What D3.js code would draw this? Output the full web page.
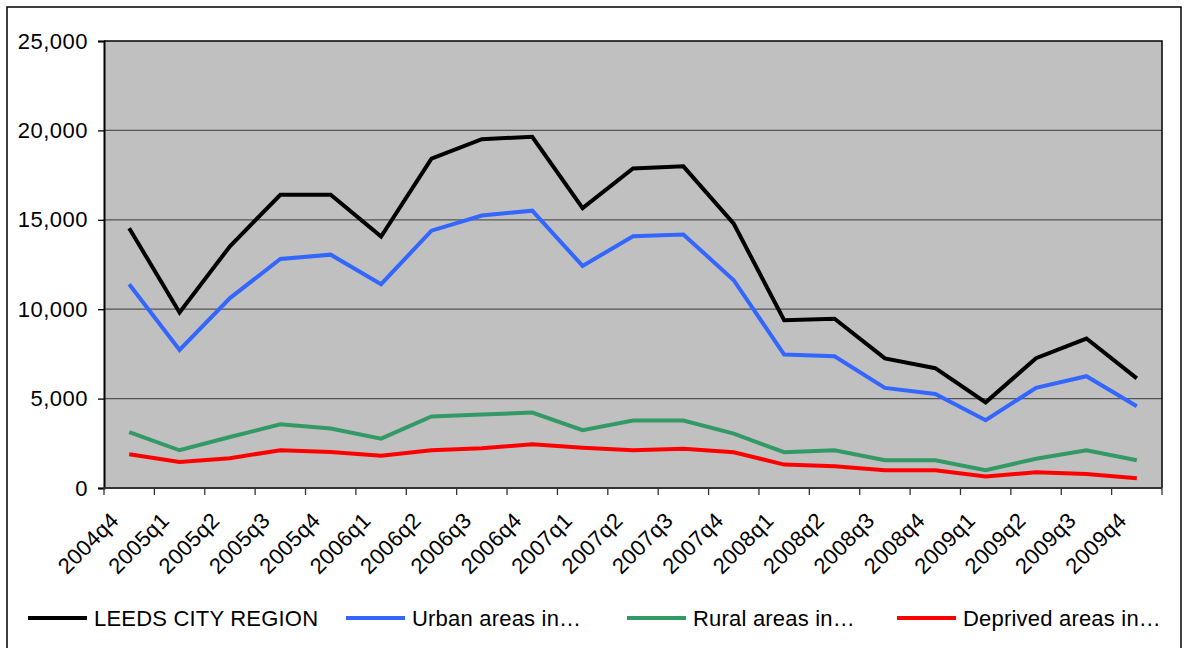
<!DOCTYPE html>
<html>
<head>
<meta charset="utf-8">
<script src="https://cdn.jsdelivr.net/npm/d3@7"></script>
<style>
  html, body { margin: 0; padding: 0; background: #fff; }
  svg { display: block; font-family: "Liberation Sans", Arial, sans-serif; }
</style>
</head>
<body>
<svg id="chart" width="1185" height="648"></svg>
<script>
// Quarterly values, Leeds City Region and its sub-areas
const quarters = ["2004q4","2005q1","2005q2","2005q3","2005q4","2006q1","2006q2","2006q3","2006q4",
  "2007q1","2007q2","2007q3","2007q4","2008q1","2008q2","2008q3","2008q4","2009q1","2009q2","2009q3","2009q4"];
const leedsCityRegion = [14530, 9820, 13520, 16400, 16400, 14060, 18420, 19510, 19640,
  15650, 17870, 17990, 14780, 9380, 9470, 7250, 6700, 4790, 7260, 8360, 6130];
const urbanAreas = [11400, 7720, 10620, 12810, 13050, 11400, 14390, 15240, 15510,
  12420, 14080, 14180, 11620, 7460, 7370, 5600, 5260, 3790, 5600, 6250, 4570];
const ruralAreas = [3130, 2110, 2850, 3560, 3330, 2760, 4000, 4110, 4220,
  3230, 3770, 3770, 3040, 2000, 2110, 1550, 1550, 990, 1640, 2110, 1550];
const deprivedAreas = [1890, 1460, 1670, 2110, 2020, 1800, 2110, 2220, 2440,
  2250, 2110, 2200, 2000, 1310, 1210, 990, 990, 650, 880, 780, 540];
const yTicks = [0, 5000, 10000, 15000, 20000, 25000];

const series = [
  { name: "LEEDS CITY REGION", values: leedsCityRegion, color: "#000000" },
  { name: "Urban areas in\u2026", values: urbanAreas, color: "#3366ff" },
  { name: "Rural areas in\u2026", values: ruralAreas, color: "#339966" },
  { name: "Deprived areas in\u2026", values: deprivedAreas, color: "#ff0000" }
];
const legendX = [28, 346, 627, 897];

const svg = d3.select("#chart");
const plot = { left: 104, top: 41, right: 1162, bottom: 488 };

// Outer chart frame
svg.append("rect")
  .attr("x", 7).attr("y", 7).attr("width", 1174).attr("height", 660)
  .attr("fill", "#fff").attr("stroke", "#000").attr("stroke-width", 1.5);

const x = d3.scaleBand().domain(quarters).range([plot.left, plot.right]).padding(0);
const y = d3.scaleLinear().domain([0, 25000]).range([plot.bottom, plot.top]);

// Plot area
svg.append("rect")
  .attr("x", plot.left).attr("y", plot.top)
  .attr("width", plot.right - plot.left).attr("height", plot.bottom - plot.top)
  .attr("fill", "#c0c0c0");

// Horizontal gridlines
svg.append("g").selectAll("line")
  .data(yTicks.filter(d => d > 0 && d < 25000))
  .join("line")
  .attr("x1", plot.left).attr("x2", plot.right)
  .attr("y1", d => y(d)).attr("y2", d => y(d))
  .attr("stroke", "#555").attr("stroke-width", 1.3);

// Top and right frame of the plot area
svg.append("path")
  .attr("d", `M${plot.left},${plot.top}H${plot.right}V${plot.bottom}`)
  .attr("fill", "none").attr("stroke", "#000").attr("stroke-width", 1.5);

// Y axis
const yAxis = d3.axisLeft(y).tickValues(yTicks).tickSize(6).tickPadding(10)
  .tickFormat(d3.format(","));
const yg = svg.append("g").attr("transform", `translate(${plot.left},0)`).call(yAxis);
yg.select(".domain").attr("stroke", "#000").attr("stroke-width", 2);
yg.selectAll(".tick line").attr("stroke", "#000").attr("stroke-width", 1.3);
yg.selectAll(".tick text").attr("font-size", 22).attr("fill", "#000")
  .attr("letter-spacing", 0.5)
  .attr("font-family", "Liberation Sans, Arial, sans-serif");

// X axis: baseline, tick marks at category boundaries, rotated labels
svg.append("line")
  .attr("x1", plot.left).attr("x2", plot.right)
  .attr("y1", plot.bottom).attr("y2", plot.bottom)
  .attr("stroke", "#333").attr("stroke-width", 2);
const boundaries = quarters.map(q => x(q)).concat([x(quarters[quarters.length - 1]) + x.bandwidth()]);
svg.append("g").selectAll("line")
  .data(boundaries)
  .join("line")
  .attr("x1", d => d).attr("x2", d => d)
  .attr("y1", plot.bottom).attr("y2", plot.bottom + 7)
  .attr("stroke", "#333").attr("stroke-width", 1.3);
svg.append("g").selectAll("text")
  .data(quarters)
  .join("text")
  .attr("transform", d => `translate(${x(d) + x.bandwidth() / 2 - 9},${plot.bottom + 34}) rotate(-45)`)
  .attr("text-anchor", "end")
  .attr("font-size", 22)
  .attr("letter-spacing", 0.3)
  .attr("fill", "#000")
  .text(d => d);

// Series lines
const line = d3.line()
  .x((d, i) => x(quarters[i]) + x.bandwidth() / 2)
  .y(d => y(d));
svg.append("g").selectAll("path")
  .data(series)
  .join("path")
  .attr("d", s => line(s.values))
  .attr("fill", "none")
  .attr("stroke", s => s.color)
  .attr("stroke-width", 4)
  .attr("stroke-linejoin", "miter");

// Legend
const lg = svg.append("g").selectAll("g")
  .data(series)
  .join("g")
  .attr("transform", (s, i) => `translate(${legendX[i]},618)`);
lg.append("line")
  .attr("x1", 0).attr("x2", 59)
  .attr("stroke", s => s.color).attr("stroke-width", 4);
lg.append("text")
  .attr("x", 66).attr("y", 8)
  .attr("font-size", 22)
  .attr("letter-spacing", 0.2)
  .attr("fill", "#000")
  .text(s => s.name);
</script>
</body>
</html>
